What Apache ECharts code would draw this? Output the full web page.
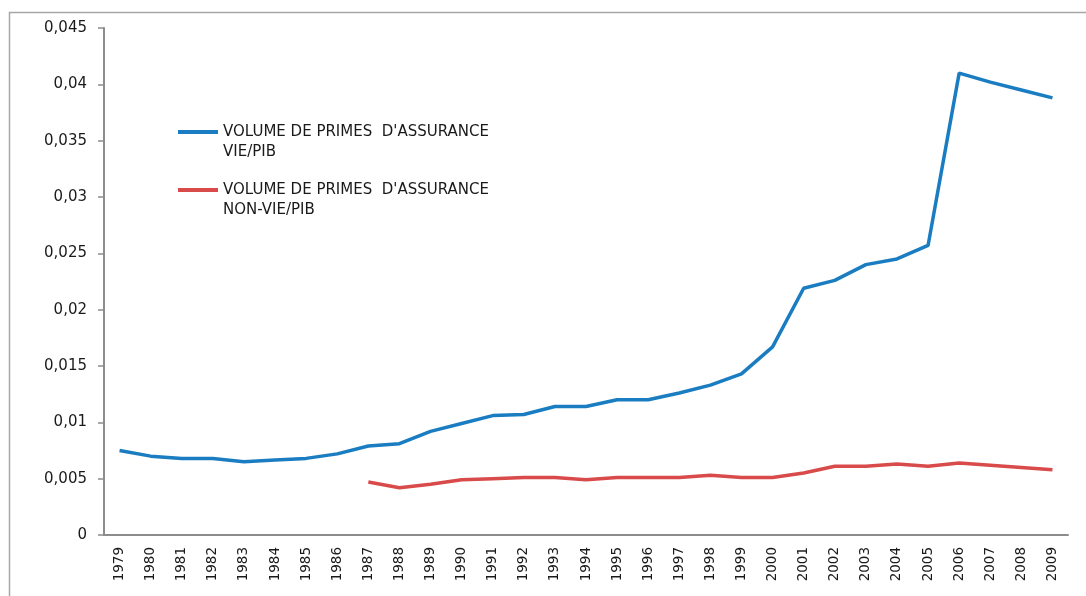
<!DOCTYPE html>
<html>
<head>
<meta charset="utf-8">
<script src="https://cdn.jsdelivr.net/npm/echarts@6/dist/echarts.min.js"></script>
<style>
  html, body { margin: 0; padding: 0; background: #fff; }
  #chart { width: 1086px; height: 596px; }
</style>
</head>
<body>
<div id="chart"></div>
<script>
const years = ['1979', '1980', '1981', '1982', '1983', '1984', '1985', '1986', '1987', '1988',
  '1989', '1990', '1991', '1992', '1993', '1994', '1995', '1996', '1997', '1998',
  '1999', '2000', '2001', '2002', '2003', '2004', '2005', '2006', '2007', '2008', '2009'];

// assurance vie / PIB
const vieSeries = [0.0075, 0.0070, 0.0068, 0.0068, 0.0065, 0.00665, 0.0068, 0.0072, 0.0079, 0.0081,
  0.0092, 0.0099, 0.0106, 0.0107, 0.0114, 0.0114, 0.0120, 0.0120, 0.0126, 0.0133,
  0.0143, 0.0167, 0.0219, 0.0226, 0.0240, 0.0245, 0.0257, 0.0410, 0.0402, 0.0395, 0.0388];

// assurance non-vie / PIB (no data before 1987)
const nonVieSeries = [null, null, null, null, null, null, null, null, 0.0047, 0.0042,
  0.0045, 0.0049, 0.0050, 0.0051, 0.0051, 0.0049, 0.0051, 0.0051, 0.0051, 0.0053,
  0.0051, 0.0051, 0.0055, 0.0061, 0.0061, 0.0063, 0.0061, 0.0064, 0.0062, 0.0060, 0.0058];

const vieName = 'VOLUME DE PRIMES  D\'ASSURANCE\nVIE/PIB';
const nonVieName = 'VOLUME DE PRIMES  D\'ASSURANCE\nNON-VIE/PIB';

const chart = echarts.init(document.getElementById('chart'));
const font = 'DejaVu Sans';

const option = {
  backgroundColor: '#fff',
  animation: false,
  textStyle: { fontFamily: font },
  graphic: [
    {
      type: 'rect',
      shape: { x: 9.5, y: 12.5, width: 1200, height: 700 },
      style: { fill: 'none', stroke: '#a6a6a6', lineWidth: 1.5 },
      silent: true
    }
  ],
  legend: {
    orient: 'vertical',
    left: 173,
    top: 97,
    itemWidth: 40,
    itemHeight: 4,
    itemGap: -2,
    icon: 'rect',
    data: [vieName, nonVieName],
    // blank first line so the icon sits level with the first text line
    formatter: name => '\n' + name,
    textStyle: {
      fontFamily: font,
      fontSize: 15,
      color: '#1a1a1a',
      lineHeight: 20
    }
  },
  grid: {
    left: 104,
    right: 18,
    top: 28,
    bottom: 61
  },
  xAxis: {
    type: 'category',
    data: years,
    axisLine: { lineStyle: { color: '#8c8c8c', width: 2 } },
    axisTick: { length: 5, lineStyle: { color: '#8c8c8c', width: 1.5 } },
    axisLabel: { rotate: 90, color: '#1a1a1a', fontSize: 13.5, fontFamily: font, margin: 12 }
  },
  yAxis: {
    type: 'value',
    min: 0,
    max: 0.045,
    interval: 0.005,
    axisLine: { show: true, lineStyle: { color: '#8c8c8c', width: 2 } },
    axisTick: { show: true, length: 6, lineStyle: { color: '#8c8c8c', width: 1.5 } },
    splitLine: { show: false },
    axisLabel: {
      color: '#1a1a1a',
      fontSize: 15,
      fontFamily: font,
      margin: 17,
      formatter: v => String(+v.toFixed(3)).replace('.', ',')
    }
  },
  series: [
    {
      name: vieName,
      type: 'line',
      data: vieSeries,
      symbol: 'none',
      itemStyle: { color: '#1a7dc1' },
      lineStyle: { width: 3.5, color: '#1a7dc1' }
    },
    {
      name: nonVieName,
      type: 'line',
      data: nonVieSeries,
      symbol: 'none',
      itemStyle: { color: '#d94a4a' },
      lineStyle: { width: 3.5, color: '#d94a4a' }
    }
  ]
};

chart.setOption(option);
</script>
</body>
</html>
